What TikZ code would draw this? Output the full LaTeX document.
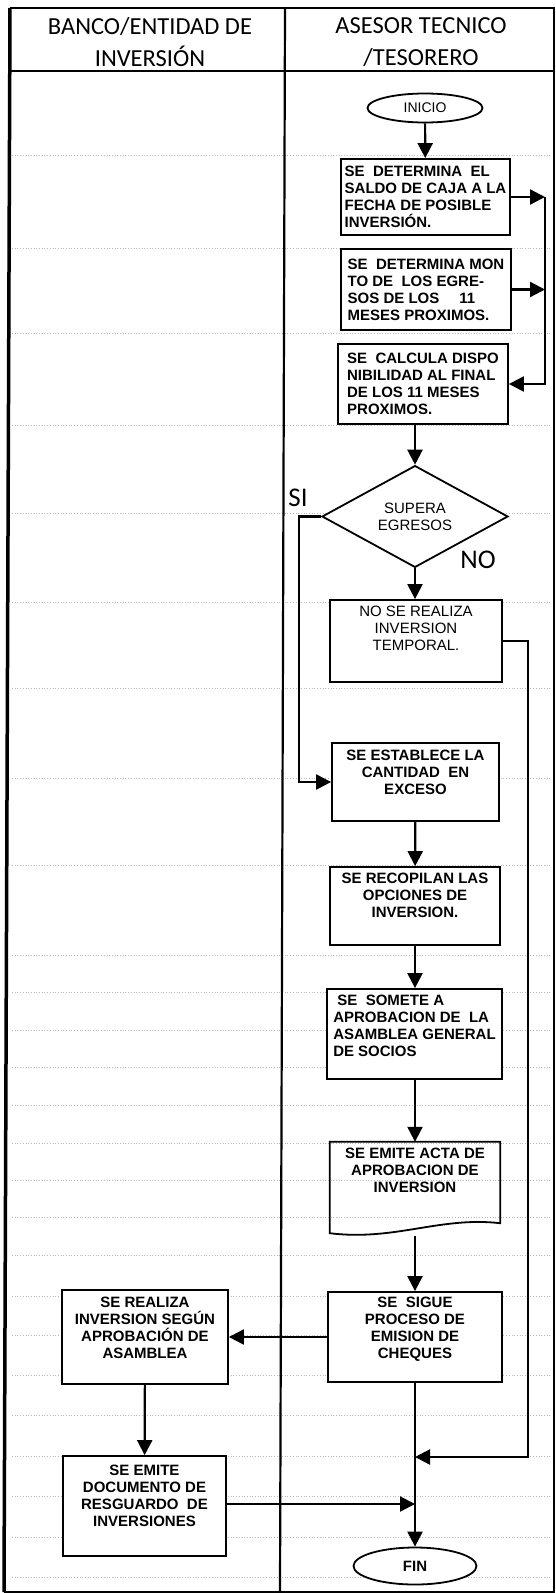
\documentclass[tikz,border=0pt]{standalone}
\usepackage{fontspec}
\setmainfont{Liberation Sans}
\newfontfamily\calibri{Carlito}
\usetikzlibrary{shapes.geometric,arrows.meta,positioning,calc}
\newcommand{\hueco}[1]{\\[#1]\mbox{}}

\tikzset{
  caja/.style={draw, fill=white, line width=1.8pt, inner sep=3pt, font=\fontsize{15}{17}\selectfont\bfseries},
  cajafina/.style={caja, font=\fontsize{15}{17}\selectfont},
  terminal/.style={draw, fill=white, ellipse, line width=1.8pt, inner sep=0pt},
  decision/.style={draw, fill=white, diamond, line width=1.8pt, inner sep=0pt, align=center, font=\fontsize{15}{17}\selectfont},
  flecha/.style={line width=2.2pt, -{Triangle[length=15pt,width=15pt]}},
  borde/.style={line width=2.2pt},
  rejilla/.style={gray!55, dotted, line width=0.7pt},
  rotulo/.style={font=\calibri\fontsize{27}{30}\selectfont},
}

\begin{document}
\begin{tikzpicture}[x=1pt,y=-1pt]
\useasboundingbox (0,0) rectangle (556,1593);

% rejilla de la hoja
\foreach \y in {155,248,333,425,513,602,688,778,865,955,992,1030,1067,1105,1143,1180,1217,1255,1296,1335,1375,1415,1456,1496,1537,1577}
  \draw[rejilla] (12,\y) -- (552,\y);

% carriles
\draw[line width=3.5pt] (10,8) -- (4,1592);
\draw[borde] (10,8) -- (554,8) -- (554,1592) -- (4,1592);
\draw[borde] (285,8) -- (280,1592);
\draw[borde] (10,71) -- (554,71);
\node[font=\calibri\fontsize{24.5}{32}\selectfont, align=center] (banco) at (150,42) {BANCO/ENTIDAD DE\\INVERSIÓN};
\node[font=\calibri\fontsize{24.5}{32}\selectfont, align=center] (asesor) at (421,42) {ASESOR TECNICO\\/TESORERO};

% asesor tecnico / tesorero
\node[terminal, minimum width=115pt, minimum height=29pt, font=\fontsize{14}{16}\selectfont] (inicio) at (425,108) {INICIO};
\node[caja, minimum width=169pt, minimum height=76pt, align=left] (saldo) at (425.5,197) {SE~ DETERMINA~ EL\\SALDO DE CAJA A LA\\FECHA DE POSIBLE\\INVERSIÓN.};
\node[caja, minimum width=170pt, minimum height=81pt, align=left] (montos) at (426,289.5) {SE~ DETERMINA MON\\TO DE~ LOS EGRE-\\SOS DE LOS\hspace{20pt}11\\MESES PROXIMOS.};
\node[caja, minimum width=170pt, minimum height=80pt, align=left] (dispon) at (423,384) {SE~ CALCULA DISPO\\NIBILIDAD AL FINAL\\DE LOS 11 MESES\\PROXIMOS.};
\node[decision, minimum width=186pt, minimum height=101pt] (supera) at (415,516.5) {SUPERA\\EGRESOS};
\node[rotulo] (si) at (298,498) {SI};
\node[rotulo] (no) at (478,560) {NO};
\node[cajafina, minimum width=172pt, minimum height=82pt, align=center] (noinv) at (416,641) {NO SE REALIZA\\INVERSION\\TEMPORAL.\hueco{9pt}};
\node[caja, minimum width=167pt, minimum height=78pt, align=center] (exceso) at (415.5,782) {SE ESTABLECE LA\\CANTIDAD~ EN\\EXCESO\hueco{3pt}};
\node[caja, minimum width=170pt, minimum height=78pt, align=center] (opciones) at (415,906) {SE RECOPILAN LAS\\OPCIONES DE\\INVERSION.\hueco{5pt}};
\node[caja, minimum width=175pt, minimum height=90pt, align=left] (somete) at (414.5,1034) {~SE~ SOMETE A\\APROBACION DE~ LA\\ASAMBLEA GENERAL\\DE SOCIOS\hueco{0pt}};
\node[font=\fontsize{15}{17}\selectfont\bfseries, minimum width=170pt, minimum height=94pt, inner sep=3pt, align=center] (acta) at (415,1189) {SE EMITE ACTA DE\\APROBACION DE\\INVERSION\hueco{21pt}};
\draw[line width=1.8pt] (acta.north west) -- (acta.north east) -- ($(acta.south east)+(0,-13)$) .. controls ($(acta.south)+(25,-20)$) and ($(acta.south)+(-20,5)$) .. ($(acta.south west)+(0,-3)$) -- cycle;
\node[caja, minimum width=174pt, minimum height=90pt, align=center] (cheques) at (415,1337) {SE~ SIGUE\\PROCESO DE\\EMISION DE\\CHEQUES\hueco{1pt}};
\node[terminal, minimum width=123pt, minimum height=37pt, font=\fontsize{15}{17}\selectfont\bfseries] (fin) at (415,1566) {FIN};

% banco / entidad de inversion
\node[caja, minimum width=166pt, minimum height=94pt, align=center] (realiza) at (145,1337) {SE REALIZA\\INVERSION SEGÚN\\APROBACIÓN DE\\ASAMBLEA\hueco{1pt}};
\node[caja, minimum width=163pt, minimum height=100pt, align=center] (resguardo) at (144.5,1506) {SE EMITE\\DOCUMENTO DE\\RESGUARDO~ DE\\INVERSIONES\hueco{3pt}};

% conectores
\coordinate (brk) at (545,195);
\coordinate (lazo) at (528,643);
\coordinate (juntaA) at (415,1457);
\coordinate (juntaB) at (415,1504);
\coordinate (codo) at (299,516.5);
\draw[flecha] (inicio) -- (saldo);
\draw[flecha] (saldo.east) -- (saldo.east -| brk);
\draw[flecha] (montos.east) -- (montos.east -| brk);
\draw[flecha] (saldo.east -| brk) -- (dispon.east -| brk) -- (dispon.east);
\draw[flecha] (dispon.south -| supera.north) -- (supera.north);
\draw[flecha] (supera.south) -- (supera.south |- noinv.north);
\draw[flecha] (supera.west) -- (codo) |- (exceso.west);
\draw[flecha] (noinv.east) -- (noinv.east -| lazo) |- (juntaA);
\draw[flecha] (exceso) -- (opciones);
\draw[flecha] (opciones) -- (somete.north -| opciones.south);
\draw[flecha] (somete.south -| acta.north) -- (acta.north);
\draw[flecha] (acta.south) -- (cheques.north);
\draw[flecha] (cheques.west) -- (realiza.east);
\draw[flecha] (realiza) -- (resguardo);
\draw[flecha] (resguardo.east |- juntaB) -- (juntaB);
\draw[flecha] (cheques) -- (fin);
\end{tikzpicture}
\end{document}
